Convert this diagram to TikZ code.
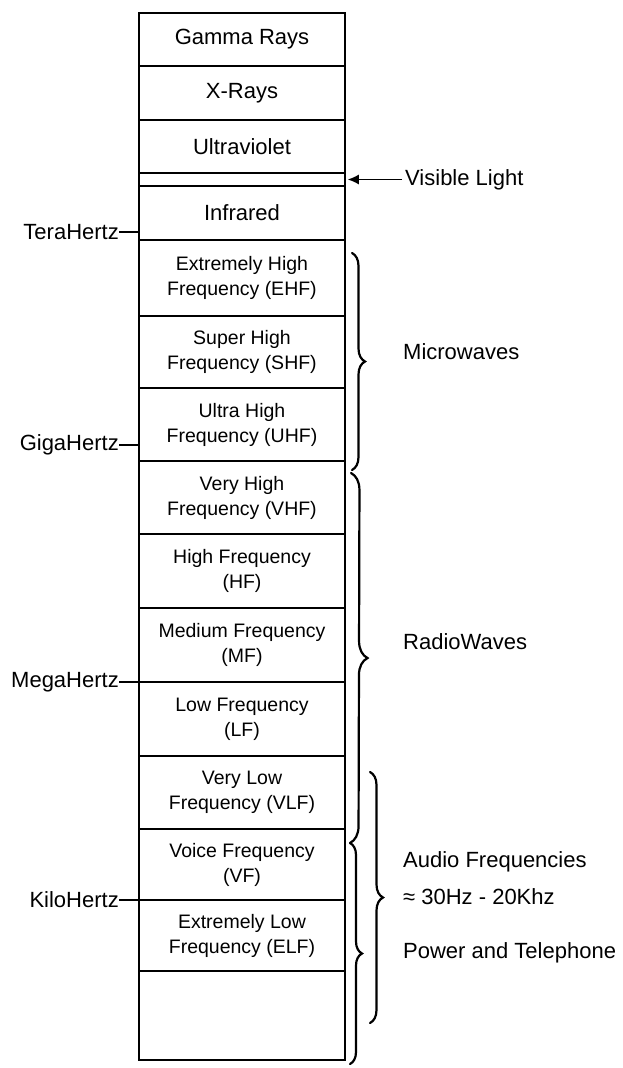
\documentclass[tikz,border=0pt]{standalone}
\usepackage{fontspec}
\setmainfont{Liberation Sans}
\usetikzlibrary{arrows.meta,decorations.pathreplacing}
\tikzset{
	band/.style = {draw, line width=1.5pt, minimum width=206pt, inner sep=0pt, align=center, font=\fontsize{19.5}{25}\selectfont},
	bigband/.style = {band, font=\fontsize{22}{26}\selectfont},
	sidelabel/.style = {inner sep=0pt, align=left, font=\fontsize{22}{26}\selectfont},
	tick/.style = {line width=1.4pt},
	bandbrace/.style = {decorate, line width=2.2pt, line cap=round}
}
\begin{document}
\begin{tikzpicture}[x=1pt, y=-1pt]
	\useasboundingbox (0,0) rectangle (623,1068);
	% the spectrum column
	\node [bigband, minimum height=53pt] (gamma) at (242,39.5) {Gamma Rays};
	\node [bigband, minimum height=54pt] (xray) at (242,93) {X-Rays};
	\node [bigband, minimum height=53pt] (uv) at (242,146.5) {Ultraviolet};
	\node [band, minimum height=13pt] (vis) at (242,179.5) {};
	\node [bigband, minimum height=54pt] (ir) at (242,213) {Infrared};
	\node [band, minimum height=76pt] (ehf) at (242,278) {Extremely High\\Frequency (EHF)};
	\node [band, minimum height=72pt] (shf) at (242,352) {Super High\\Frequency (SHF)};
	\node [band, minimum height=73pt] (uhf) at (242,424.5) {Ultra High\\Frequency (UHF)};
	\node [band, minimum height=73pt] (vhf) at (242,497.5) {Very High\\Frequency (VHF)};
	\node [band, minimum height=74pt] (hf) at (242,571) {High Frequency\\(HF)};
	\node [band, minimum height=74pt] (mf) at (242,645) {Medium Frequency\\(MF)};
	\node [band, minimum height=74pt] (lf) at (242,719) {Low Frequency\\(LF)};
	\node [band, minimum height=73pt] (vlf) at (242,792.5) {Very Low\\Frequency (VLF)};
	\node [band, minimum height=71pt] (vf) at (242,864.5) {Voice Frequency\\(VF)};
	\node [band, minimum height=71pt] (elf) at (242,935.5) {Extremely Low\\Frequency (ELF)};
	\node [band, minimum height=89pt] (blank) at (242,1015.5) {};

	% units on the left
	\node [sidelabel, anchor=east] (tera) at (119,232) {TeraHertz};
	\node [sidelabel, anchor=east] (giga) at (119,445) {GigaHertz};
	\node [sidelabel, anchor=east] (mega) at (119,682) {MegaHertz};
	\node [sidelabel, anchor=east] (kilo) at (119,900) {KiloHertz};
	\draw [tick] (tera.east) -- (tera.east -| ir.west);
	\draw [tick] (giga.east) -- (giga.east -| uhf.west);
	\draw [tick] (mega.east) -- (mega.east -| lf.west);
	\draw [tick] (kilo.east) -- (kilo.east -| elf.west);

	% visible light
	\node [sidelabel, anchor=west] (vislbl) at (405,179.5) {Visible Light};
	\draw [tick, -{Latex[length=11pt,width=10pt]}] ([xshift=-3pt]vislbl.west) -- ([xshift=2pt]vis.east);

	% braces and names on the right
	\coordinate (mwtop) at (352,253);
	\coordinate (mwbot) at (352,470);
	\coordinate (rwtop) at (351,473);
	\coordinate (rwbot) at (350,843);
	\coordinate (pwtop) at (350,843);
	\coordinate (pwbot) at (350,1064);
	\coordinate (aftop) at (370,772);
	\coordinate (afbot) at (370,1023);
	\draw [bandbrace, decoration={brace, amplitude=13pt}] (mwtop) -- (mwbot);
	\draw [bandbrace, decoration={brace, amplitude=17pt}] (rwtop) -- (rwbot);
	\draw [bandbrace, decoration={brace, amplitude=12pt}] (pwtop) -- (pwbot);
	\draw [bandbrace, decoration={brace, amplitude=13pt}] (aftop) -- (afbot);
	\node [sidelabel, anchor=west] (micro) at (403,352) {Microwaves};
	\node [sidelabel, anchor=west] (radio) at (403,642) {RadioWaves};
	\node [sidelabel, anchor=west] (audio) at (403,862) {Audio Frequencies};
	\node [sidelabel, anchor=west] (audiorange) at (403,897) {≈ 30Hz - 20Khz};
	\node [sidelabel, anchor=west] (power) at (403,953) {Power and Telephone};
\end{tikzpicture}
\end{document}
